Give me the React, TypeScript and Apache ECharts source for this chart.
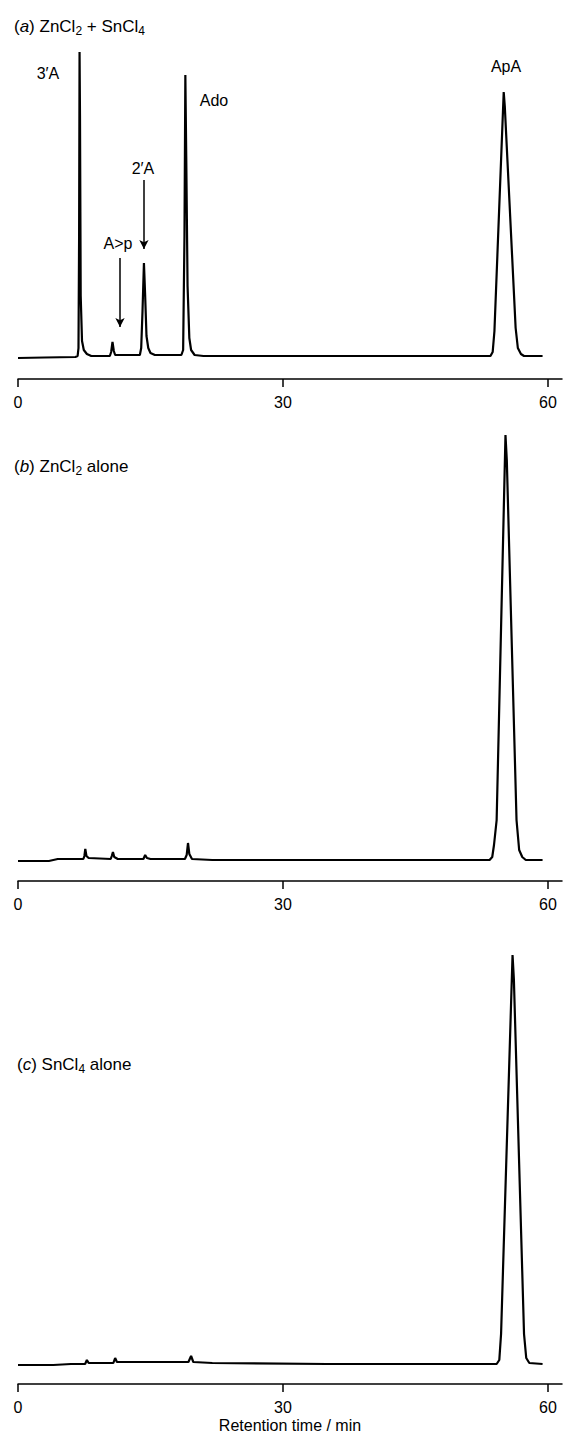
import React, { useEffect, useRef } from "react";
import * as echarts from "echarts";

// Retention time (min), detector response (arbitrary units, baseline = 0)
const traceA: [number, number][] = [
  [0, -2], [3, -1.5], [6.5, -1], [6.75, 0], [6.85, 8], [6.92, 120], [6.97, 304], [7.02, 240], [7.1, 60],
  [7.25, 15], [7.45, 6], [7.8, 2], [8.3, 0],
  [10.4, 0], [10.55, 4], [10.7, 14], [10.85, 5], [11.0, 1],
  [13.8, 1], [13.95, 8], [14.1, 45], [14.26, 93], [14.4, 60], [14.55, 20], [14.75, 8], [15.0, 3], [15.5, 1],
  [18.5, 1], [18.7, 6], [18.85, 120], [18.95, 281], [19.05, 200], [19.2, 70], [19.4, 18], [19.6, 6], [20.0, 1], [21, 0],
  [40, 0], [53.5, 0], [53.75, 4], [53.95, 25], [55.0, 264], [55.12, 250], [56.35, 28], [56.6, 8], [56.95, 2], [57.3, 0], [59.4, 0],
];

const traceB: [number, number][] = [
  [0, -1], [3.5, -1], [4.5, 1], [7.4, 1], [7.52, 4], [7.62, 11], [7.75, 4], [8.0, 2],
  [10.5, 1], [10.62, 4], [10.75, 8], [10.9, 3], [11.3, 1],
  [14.2, 1], [14.4, 5], [14.6, 2], [15, 1],
  [18.9, 1], [19.1, 5], [19.25, 17], [19.4, 6], [19.7, 1], [22, 0],
  [40, 0], [53.4, 0], [53.7, 3], [53.9, 15], [54.2, 40], [55.2, 425], [55.35, 400], [56.45, 40], [56.75, 10], [57.1, 3], [57.5, 0], [59.4, 0],
];

const traceC: [number, number][] = [
  [0, -1], [4, -1], [6, 0], [7.6, 0], [7.8, 4], [8.0, 1],
  [10.8, 1], [11.0, 6], [11.2, 2], [14, 2],
  [19.3, 2], [19.6, 8], [19.85, 2], [22, 1], [35, 0],
  [54.2, 0], [54.5, 4], [54.7, 30], [56.0, 409], [56.15, 385], [57.3, 30], [57.55, 6], [57.9, 1], [59.4, 0],
];

const tickValues = [0, 30, 60];
const axisTitle = "Retention time / min";

// arrows in panel (a): [time, fromValue, toValue]
const arrowAp: [number, number, number] = [11.55, 98, 29];
const arrow2A: [number, number, number] = [14.26, 176, 107];

const peakLabels = ["3′A", "A>p", "2′A", "Ado", "ApA"];

const FONT = "'Liberation Sans', Arial, Helvetica, sans-serif";

export default function App() {
  const ref = useRef<HTMLDivElement>(null);
  useEffect(() => {
    if (!ref.current) return;
    const chart = echarts.init(ref.current, undefined, { renderer: "svg" });

    const grids = [
      { left: 18, width: 544, top: 46, height: 333 },
      { left: 18, width: 544, top: 430, height: 451 },
      { left: 18, width: 544, top: 950, height: 434 },
    ];
    const yRanges = [
      [-23, 310],
      [-21, 430],
      [-20, 414],
    ];
    const traces = [traceA, traceB, traceC];

    const xAxes = grids.map((_, i) => ({
      gridIndex: i,
      type: "value",
      min: 0,
      max: 61.6,
      axisLine: { show: true, onZero: false, lineStyle: { color: "#000", width: 1.5 } },
      axisTick: { show: true, length: 8, customValues: tickValues, lineStyle: { color: "#000", width: 1.5 } },
      axisLabel: { customValues: tickValues, color: "#000", fontSize: 16, fontFamily: FONT, margin: 15 },
      splitLine: { show: false },
      ...(i === 2
        ? { name: axisTitle, nameLocation: "middle", nameGap: 33, nameTextStyle: { color: "#000", fontSize: 16, fontFamily: FONT } }
        : {}),
    }));
    const yAxes = grids.map((_, i) => ({
      gridIndex: i,
      type: "value",
      min: yRanges[i][0],
      max: yRanges[i][1],
      show: false,
    }));

    const series = traces.map((t, i) => ({
      type: "line",
      xAxisIndex: i,
      yAxisIndex: i,
      data: t,
      showSymbol: false,
      lineStyle: { color: "#000", width: 2.2 },
      ...(i === 0
        ? {
            markLine: {
              silent: true,
              symbol: ["none", "arrow"],
              symbolSize: [7, 9],
              label: { show: false },
              lineStyle: { color: "#000", width: 1.5, type: "solid" },
              data: [arrowAp, arrow2A].map((a) => [{ coord: [a[0], a[1]] }, { coord: [a[0], a[2]] }]),
            },
          }
        : {}),
    }));

    const rich = {
      n: { fontSize: 17, fontFamily: FONT, color: "#000" },
      i: { fontSize: 17, fontFamily: FONT, fontStyle: "italic", color: "#000" },
      s: { fontSize: 12, fontFamily: FONT, padding: [10, 0, 0, 0], color: "#000" },
    };
    const title = (x: number, y: number, text: string) => ({
      type: "text",
      x,
      y,
      style: { text, rich, verticalAlign: "middle", fill: "#000" },
    });
    const lbl = (x: number, y: number, text: string) => ({
      type: "text",
      x,
      y,
      style: { text, font: `16px ${FONT}`, fill: "#000", align: "center", verticalAlign: "middle" },
    });

    chart.setOption({
      animation: false,
      backgroundColor: "#fff",
      grid: grids,
      xAxis: xAxes,
      yAxis: yAxes,
      series,
      graphic: [
        title(14, 26, "{n|(}{i|a}{n|) ZnCl}{s|2}{n| + SnCl}{s|4}"),
        title(14, 466, "{n|(}{i|b}{n|) ZnCl}{s|2}{n| alone}"),
        title(17, 1064, "{n|(}{i|c}{n|) SnCl}{s|4}{n| alone}"),
        lbl(48, 73, peakLabels[0]),
        lbl(118, 243, peakLabels[1]),
        lbl(143, 168, peakLabels[2]),
        lbl(214, 100, peakLabels[3]),
        lbl(506, 66, peakLabels[4]),
      ],
    });
    return () => chart.dispose();
  }, []);
  return <div ref={ref} style={{ position: "absolute", left: 0, top: 0, width: 577, height: 1438 }} />;
}
